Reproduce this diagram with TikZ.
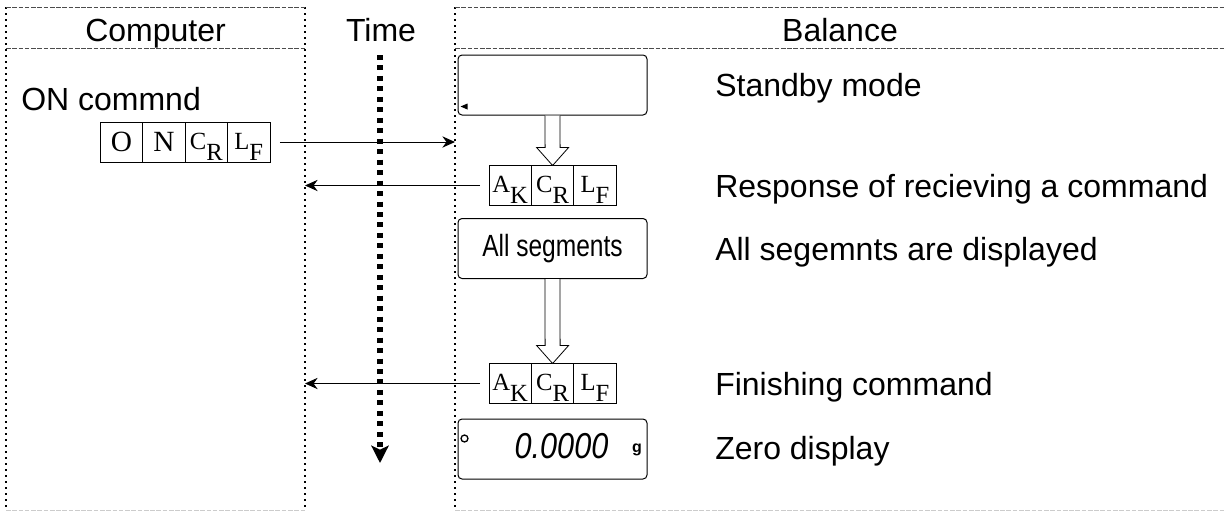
\documentclass[tikz,border=0pt]{standalone}
\usepackage{fontspec}
\setmainfont{Liberation Sans}
\newfontfamily\cellfont{Liberation Serif}
\usetikzlibrary{arrows.meta,positioning,calc}

\tikzset{
  lbl/.style={anchor=base west, inner sep=0pt, font=\fontsize{24}{28}\selectfont},
  hdr/.style={anchor=base, inner sep=0pt, font=\fontsize{24}{28}\selectfont},
  cell/.style={draw, line width=0.6pt, minimum width=31.8pt, minimum height=30pt,
    inner sep=0pt, outer sep=0pt, font=\cellfont\fontsize{22}{22}\selectfont},
  disp/.style={draw, line width=0.75pt, rounded corners=3pt, minimum width=141.75pt,
    minimum height=45pt, inner sep=0pt},
  msg/.style={line width=0.75pt, -{Stealth[length=9.5pt,width=8.5pt]}},
  hollow/.style={draw, fill=white, line width=0.6pt},
  side/.style={line width=1.5pt, dash pattern=on 1.5pt off 3pt},
  rule/.style={gray!60!black, line width=0.75pt, dash pattern=on 3.5pt off 1.2pt},
  floor/.style={gray!40, line width=0.75pt, dash pattern=on 3.5pt off 1.2pt},
  timeline/.style={line width=4pt, dash pattern=on 3.75pt off 4.1pt,
    -{Stealth[length=13pt,width=13pt,inset=3pt]}}
}
\newcommand{\subcell}[2]{{\fontsize{18.5}{18.5}\selectfont #1\raisebox{-8pt}{#2}\rule{0pt}{19pt}}}

\begin{document}
\begin{tikzpicture}[x=0.75pt,y=-0.75pt]
  \useasboundingbox (0,0) rectangle (1226,511);

  % panels
  \coordinate (compR) at (305,0);
  \coordinate (balL) at (455,0);
  \draw[side] (6,7) -- (6,510);
  \draw[side] (305,7) -- (305,510);
  \draw[side] (455,7) -- (455,510);
  \draw[rule] (6,7) -- (305,7) (6,48) -- (305,48);
  \draw[rule] (455,7) -- (1226,7) (455,48) -- (1226,48);
  \draw[floor] (6,510) -- (305,510) (455,510) -- (1226,510);

  \node[hdr] (hcomp) at (155.5,41) {Computer};
  \node[hdr] (htime) at (381,41) {Time};
  \node[hdr] (hbal) at (840,41) {Balance};

  \coordinate (tstart) at (380,55);
  \coordinate (tend) at (380,463);
  \draw[timeline] (tstart) -- (tend);

  % computer side
  \node[lbl] (oncmd) at (21,110) {ON commnd};
  \node[cell] (ono) at (121.5,142) {O};
  \node[cell, right=0pt of ono] (onn) {N};
  \node[cell, right=0pt of onn] (oncr) {\subcell{C}{R}};
  \node[cell, right=0pt of oncr] (onlf) {\subcell{L}{F}};

  % balance side
  \node[disp] (stby) at (552.5,85) {};
  \fill ($(stby.south west)+(3,-9)$) -- ++(7,-3) -- ++(0,6) -- cycle;

  \node[cell] (aka) at (510.2,185.5) {\subcell{A}{K}};
  \node[cell, right=0pt of aka] (akcr) {\subcell{C}{R}};
  \node[cell, right=0pt of akcr] (aklf) {\subcell{L}{F}};

  \node[disp] (segs) at (552.5,248.5) {\scalebox{0.8}[1]{\fontsize{23}{26}\selectfont All segments}};

  \node[cell] (akb) at (510.2,383.5) {\subcell{A}{K}};
  \node[cell, right=0pt of akb] (akbcr) {\subcell{C}{R}};
  \node[cell, right=0pt of akbcr] (akblf) {\subcell{L}{F}};

  \node[disp] (zero) at (552.5,449) {};
  \draw[line width=1pt] ($(zero.north west)+(7,20)$) circle[radius=2.6pt];
  \node[inner sep=0pt, font=\itshape\fontsize{27}{27}\selectfont] (zdig) at (561.5,446)
    {\scalebox{0.85}[1]{0.0000}};
  \node[inner sep=0pt, font=\bfseries\fontsize{12}{12}\selectfont] (zg) at (637,450) {g};

  \foreach \a/\b in {stby/akcr, segs/akbcr}
    \draw[hollow] ($(\a.south)+(-7.5,0)$) -- ($(\b.north)+(-7.5,-18)$)
      -- ($(\b.north)+(-16,-18)$) -- (\b.north) -- ($(\b.north)+(16,-18)$)
      -- ($(\b.north)+(7.5,-18)$) -- ($(\a.south)+(7.5,0)$);

  % messages
  \draw[msg] ([xshift=7.5pt]onlf.east) -- (onlf.east -| balL);
  \draw[msg] ([xshift=-6.75pt]aka.west) -- (aka.west -| compR);
  \draw[msg] ([xshift=-6.75pt]akb.west) -- (akb.west -| compR);

  \node[lbl] (lstby) at (715,96) {Standby mode};
  \node[lbl] (lresp) at (715,197) {Response of recieving a command};
  \node[lbl] (lsegs) at (715,260) {All segemnts are displayed};
  \node[lbl] (lfin) at (715,395) {Finishing command};
  \node[lbl] (lzero) at (715,459) {Zero display};
\end{tikzpicture}
\end{document}
